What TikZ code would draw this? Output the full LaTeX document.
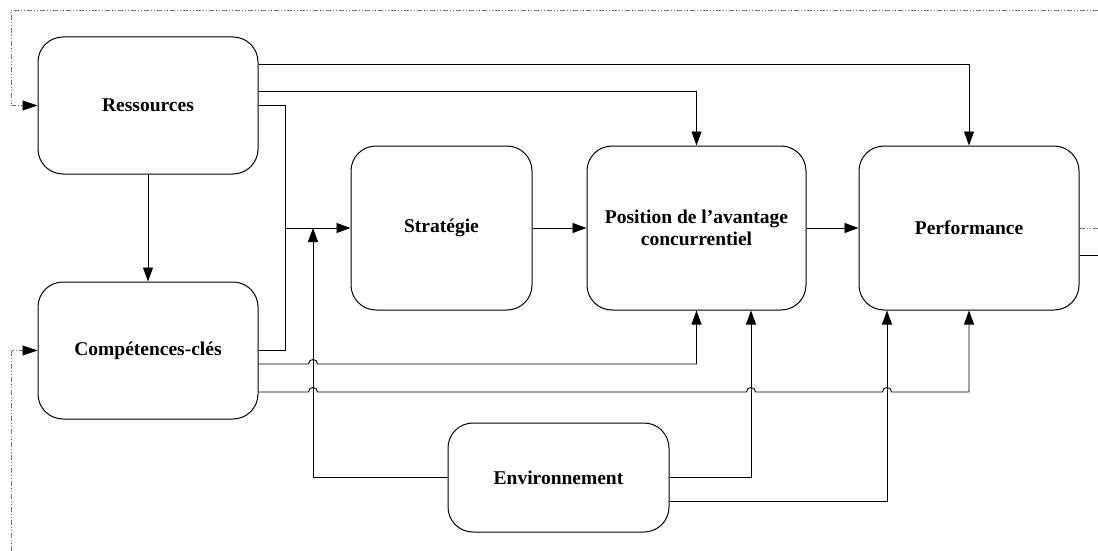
\documentclass[tikz,border=0pt]{standalone}
\usepackage{fontspec}
\setmainfont{Liberation Serif}
\usetikzlibrary{arrows.meta}
\begin{document}
\begin{tikzpicture}[x=1pt,y=-1pt,
  box/.style={draw=black,line width=1pt,rounded corners=25pt,fill=white,
    minimum width=220pt,minimum height=137pt,inner sep=0pt,align=center,
    font=\fontsize{19.5}{22.5}\selectfont\bfseries},
  conn/.style={draw=black,line width=0.9pt},
  arr/.style={conn,-{Triangle[length=14pt,width=10pt]}},
  fb/.style={draw=black!55,line width=0.7pt,dash pattern=on 5pt off 2pt on 1pt off 2pt on 1pt off 2pt},
  fbarr/.style={fb,-{Triangle[length=15pt,width=10pt,black]}}]
\useasboundingbox (0,0) rectangle (1098,551);
\node[box] (res) at (148,105.5) {Ressources};
\node[box] (comp) at (148,350.5) {Compétences-clés};
\node[box,minimum width=181pt,minimum height=164pt] (strat) at (441.5,228) {Stratégie};
\node[box,minimum width=219pt,minimum height=164pt] (pos) at (696.5,228) {Position de l’avantage\\concurrentiel};
\node[box,minimum width=220pt,minimum height=164pt] (perf) at (969,228) {Performance};
\node[box,minimum width=221pt,minimum height=109pt] (env) at (558.5,477.5) {Environnement};
\coordinate (j) at (285,228);
\coordinate (k) at (313,228);
\coordinate (tr) at (1098,10);
\coordinate (tl) at (11,10);
\coordinate (bl) at (11,551);
\coordinate (rd) at (1098,228);
\coordinate (rs) at (1098,255);
% from Ressources
\draw[arr] (res.east |- 0,64) -| (perf.north);
\draw[arr] (res.east |- 0,91) -| (pos.north);
\draw[arr] (res.east) -| (j) -- (strat.west);
\draw[arr] (res.south) -- (comp.north);
% from Compétences-clés
\draw[conn] (comp.east) -| (j);
\draw[arr] (comp.east |- 0,364) -- (308.5,364) .. controls (308.5,358) and (317.5,358) .. (317.5,364) -| (pos.south);
\draw[arr] (comp.east |- 0,392) -- (308.5,392) .. controls (308.5,386) and (317.5,386) .. (317.5,392)
  -- (746.5,392) .. controls (746.5,386) and (755.5,386) .. (755.5,392)
  -- (882.5,392) .. controls (882.5,386) and (891.5,386) .. (891.5,392) -| (perf.south);
% from Environnement
\draw[arr] (env.west) -| (k);
\draw[arr] (env.east) -| ([xshift=54.5pt]pos.south);
\draw[arr] (env.east |- 0,501) -| ([xshift=-82pt]perf.south);
% main chain
\draw[arr] (strat.east) -- (pos.west);
\draw[arr] (pos.east) -- (perf.west);
\draw[conn] (perf.east |- rs) -- (rs);
% feedback
\draw[fb] (perf.east) -- (rd);
\draw[fbarr] (tr) -- (tl) |- (res.west);
\draw[fbarr] (bl) |- (comp.west);
\end{tikzpicture}
\end{document}
